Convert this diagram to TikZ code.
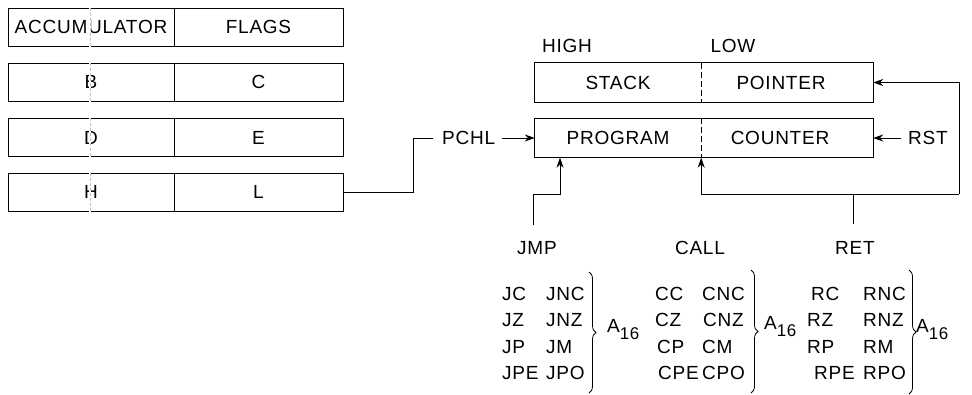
\documentclass[tikz,border=0pt]{standalone}
\usepackage{fontspec}
\setmainfont[LetterSpace=4]{Liberation Sans}
\usetikzlibrary{arrows.meta,decorations.pathreplacing}
\begin{document}
\begin{tikzpicture}[x=1pt,y=-1pt,
  every node/.style={font=\fontsize{19}{22}\selectfont, inner sep=0pt},
  reg/.style={draw, line width=0.8pt, minimum height=38pt},
  half/.style={minimum height=39pt},
  lst/.style={anchor=west},
  conn/.style={line width=0.8pt},
  divider/.style={conn,dash pattern=on 6pt off 3pt},
  arr/.style={conn,-{Stealth[length=10pt,width=7pt]}},
  brc/.style={decorate,decoration={brace,amplitude=7pt},line width=0.8pt},
  gapline/.style={draw=white,line width=2pt}]
\useasboundingbox[fill=white] (0,0) rectangle (972,395);

% register pairs
\node[reg,minimum width=166pt] (aL) at (91,27) {ACCUMULATOR};
\node[reg,minimum width=169pt] (aR) at (258.5,27) {FLAGS};
\node[reg,minimum width=166pt] (bL) at (91,82) {B};
\node[reg,minimum width=169pt] (bR) at (258.5,82) {C};
\node[reg,minimum width=166pt] (dL) at (91,137.5) {D};
\node[reg,minimum width=169pt] (dR) at (258.5,137.5) {E};
\node[reg,minimum width=166pt] (hL) at (91,192) {H};
\node[reg,minimum width=169pt] (hR) at (258.5,192) {L};
\foreach \r in {aL,bL,dL,hL}{
  \draw[gapline] ([xshift=-1pt,yshift=1pt]\r.north) -- ([xshift=-1pt,yshift=-1pt]\r.south);
  \draw[gray!50,densely dashed,line width=0.4pt] ([xshift=-1pt]\r.north) -- ([xshift=-1pt]\r.south);
}

% stack pointer / program counter
\node (high) at (567,46) {HIGH};
\node (low) at (733,46) {LOW};
\node[half,minimum width=166pt] (spH) at (618,82.5) {STACK};
\node[half,minimum width=172pt] (spL) at (787,82.5) {\hspace*{-12pt}POINTER};
\draw[conn] (spH.north west) rectangle (spL.south east);
\draw[divider] (spH.north east) -- (spH.south east);
\node[half,minimum width=166pt] (pcH) at (618,138) {PROGRAM};
\node[half,minimum width=172pt] (pcL) at (787,138) {\hspace*{-14pt}COUNTER};
\draw[conn] (pcH.north west) rectangle (pcL.south east);
\draw[divider] (pcH.north east) -- (pcH.south east);

% PCHL
\node[anchor=west] (pchl) at (442,138) {PCHL};
\draw[conn] (hR.east) -- (413,192) |- ([xshift=-9pt]pchl.west);
\draw[arr] ([xshift=7pt]pchl.east) -- (pcH.west);

% RST
\node[anchor=west] (rst) at (908,138) {RST};
\draw[arr] ([xshift=-7pt]rst.west) -- (pcL.east);

% JMP
\node (jmp) at (537,248) {JMP};
\coordinate (jb) at (533,225);
\draw[arr] (jb) |- (560,194) -- ([xshift=-58pt]pcH.south);

% CALL / RET loop
\node (call) at (700,248) {CALL};
\node (ret) at (855,248) {RET};
\coordinate (lp) at (959,194);
\coordinate (rb) at (853,224);
\draw[arr] (lp) -- (pcH.south east |- lp) -- (pcH.south east);
\draw[arr] (lp) |- (spL.east);
\draw[conn] (rb) -- (rb |- lp);

% JMP list
\node[lst] (jc) at (502,294) {JC};   \node[lst] (jnc) at (546,294) {JNC};
\node[lst] (jz) at (502,320) {JZ};   \node[lst] (jnz) at (546,320) {JNZ};
\node[lst] (jp) at (502,347) {JP};   \node[lst] (jm) at (546,347) {JM};
\node[lst] (jpe) at (502,373) {JPE}; \node[lst] (jpo) at (546,373) {JPO};
\draw[brc] (589,272) -- (589,393);
\node[anchor=west] (ja) at (607,330) {A\raisebox{-7pt}{\fontsize{17}{20}\selectfont 16}};

% CALL list
\node[lst] (cc) at (655,294) {CC};   \node[lst] (cnc) at (702,294) {CNC};
\node[lst] (cz) at (655,320) {CZ};   \node[lst] (cnz) at (703,320) {CNZ};
\node[lst] (cp) at (657,347) {CP};   \node[lst] (cm) at (702,347) {CM};
\node[lst] (cpe) at (658,373) {CPE}; \node[lst] (cpo) at (702,373) {CPO};
\draw[brc] (751,270) -- (751,393);
\node[anchor=west] (ca) at (764,327) {A\raisebox{-7pt}{\fontsize{17}{20}\selectfont 16}};

% RET list
\node[lst] (rc) at (811,294) {RC};   \node[lst] (rnc) at (863,294) {RNC};
\node[lst] (rz) at (807,320) {RZ};   \node[lst] (rnz) at (863,320) {RNZ};
\node[lst] (rp) at (807,347) {RP};   \node[lst] (rm) at (863,347) {RM};
\node[lst] (rpe) at (814,373) {RPE}; \node[lst] (rpo) at (863,373) {RPO};
\draw[brc] (909,270) -- (909,394);
\node[anchor=west] (ra) at (916,330) {A\raisebox{-7pt}{\fontsize{17}{20}\selectfont 16}};
\end{tikzpicture}
\end{document}
